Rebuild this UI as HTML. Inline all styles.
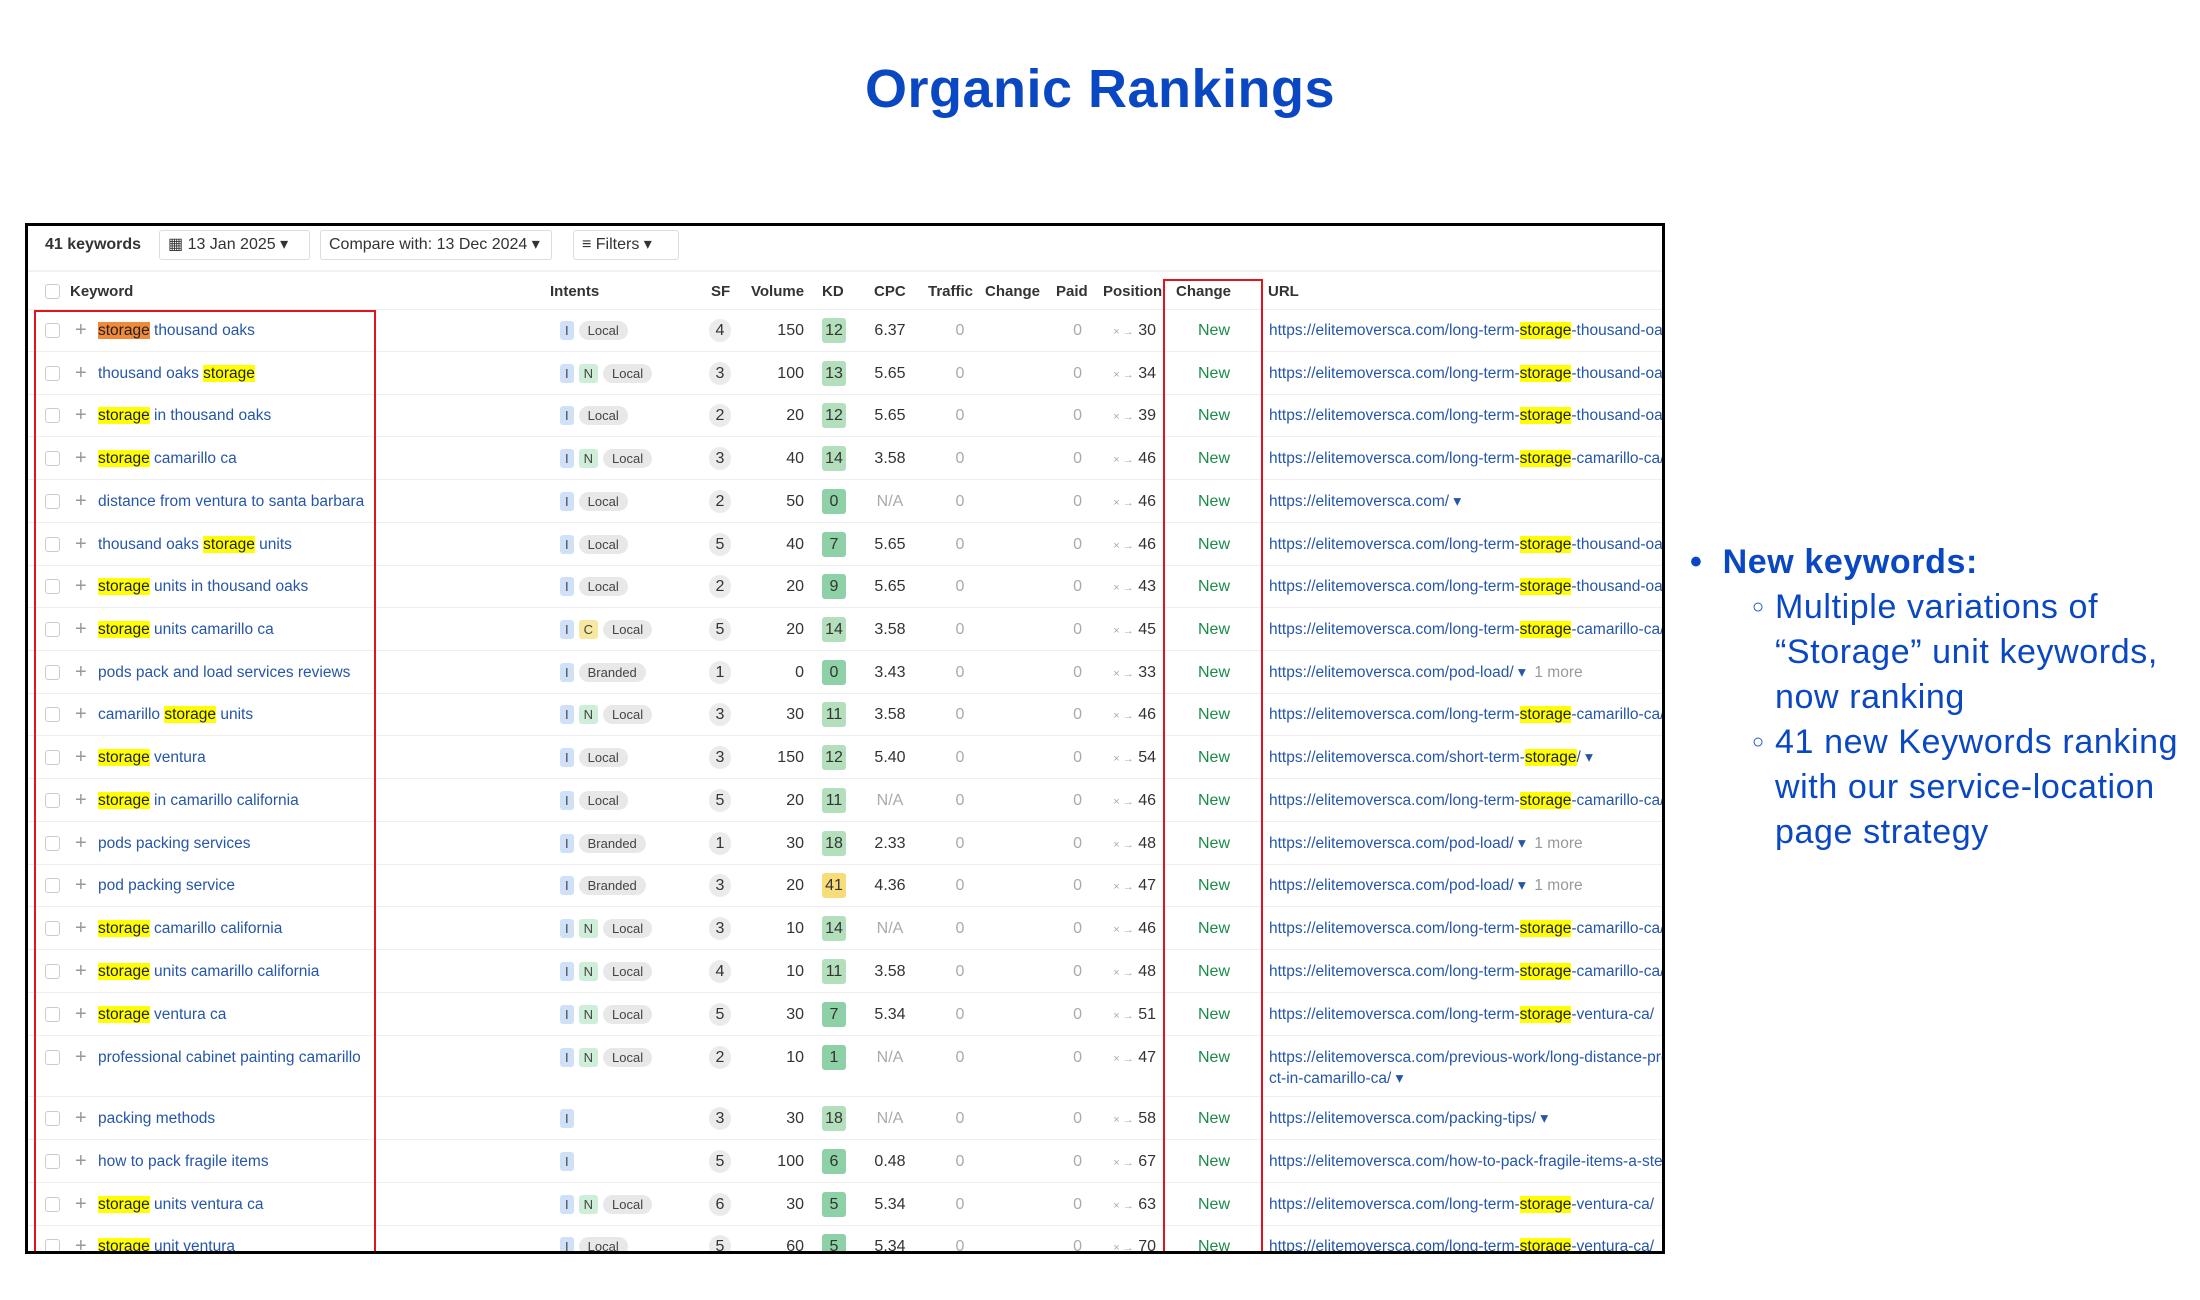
<!DOCTYPE html>
<html><head><meta charset="utf-8">
<style>
*{margin:0;padding:0;box-sizing:border-box}
body{width:2200px;height:1300px;background:#fff;position:relative;overflow:hidden;font-family:"Liberation Sans",Arial,sans-serif}
i{font-style:normal}
.title{position:absolute;left:0;width:2200px;top:58px;text-align:center;font-weight:bold;font-size:54px;color:#0a47c2;letter-spacing:0.5px}
.tbl{position:absolute;left:25px;top:223px;width:1640px;height:1031px;border:3px solid #000;overflow:hidden;font-size:16px;color:#333}
.tb{position:absolute;top:4px;height:30px;border:1px solid #ddd;border-radius:3px;line-height:28px;padding:0 8px;font-size:16px;color:#333;white-space:nowrap}
.row{position:absolute;left:0;width:1640px;height:43px;line-height:43px;border-bottom:1px solid #eee}
.row span,.hd span{position:absolute;white-space:nowrap}
.hd{position:absolute;left:0;top:44px;width:1640px;height:40px;line-height:40px;border-top:2px solid #f2f2f2;border-bottom:1px solid #eee;font-weight:bold;font-size:15px;color:#333}
.cb{left:17px;top:14px;width:15px;height:15px;border:1px solid #ccc;border-radius:3px}
.pl{left:47px;color:#999;font-size:20px}
.kw{left:70px;color:#2656a8;font-size:15.5px}
.y{background:#ffff00;color:#222}
.o{background:#f08a3a;color:#222}
.it{left:532px;top:12px;height:19px;line-height:19px}
.b{display:inline-block;height:19px;line-height:19px;padding:0 5px;border-radius:3px;font-size:13px;margin-right:5px;color:#444}
.bi{background:#cfe1f6}.bn{background:#cfeeda}.bc{background:#f8e7a0}
.bl{background:#e8e8e8;border-radius:10px;padding:0 9px}
.sf{left:681px;top:10px;width:22px;height:23px;line-height:23px;border-radius:11px;background:#ebebeb;text-align:center}
.vol{left:716px;width:60px;text-align:right}
.kd{left:794px;top:9px;width:24px;height:25px;line-height:25px;border-radius:3px;text-align:center;background:#b3dfbd}
.kd.d{background:#8fd1a6}.kd.yy{background:#f7dd7a}
.cpc{left:832px;width:60px;text-align:center}
.na{color:#aaa}
.tr{left:912px;width:40px;text-align:center;color:#aaa}
.pd{left:1014px;width:40px;text-align:right;color:#aaa}
.pos{left:1068px;width:60px;text-align:right}
.pos i{color:#aaa;font-size:11px}
.nw{left:1156px;width:60px;text-align:center;color:#1b8a4a}
.url{left:1241px;color:#2656a8;font-size:15.5px}
.m{color:#999}
.rb{position:absolute;border:2px solid #e0141a}
.side{position:absolute;left:1690px;top:540px;color:#0a47c2;font-size:34px;line-height:45px;letter-spacing:0.6px}
.side div{position:absolute;white-space:nowrap}
</style></head><body>
<div class="title">Organic Rankings</div>
<div class="tbl">
<div style="position:absolute;left:17px;top:4px;line-height:30px;font-weight:bold;font-size:16px">41 keywords</div>
<div class="tb" style="left:131px;width:151px">▦ 13 Jan 2025 ▾</div>
<div class="tb" style="left:292px;width:232px">Compare with: 13 Dec 2024 ▾</div>
<div class="tb" style="left:545px;width:106px">≡ Filters ▾</div>
<div class="hd"><span class="cb" style="top:12px;font-weight:normal"></span><span style="left:42px">Keyword</span><span style="left:522px">Intents</span><span style="left:683px">SF</span><span style="left:723px">Volume</span><span style="left:794px">KD</span><span style="left:846px">CPC</span><span style="left:900px">Traffic</span><span style="left:957px">Change</span><span style="left:1028px">Paid</span><span style="left:1075px">Position</span><span style="left:1148px">Change</span><span style="left:1240px">URL</span></div>

<div class="row" style="top:83px"><span class="cb"></span><span class="pl">+</span><span class="kw"><b class="o" style="font-weight:normal">storage</b> thousand oaks</span><span class="it"><i class="b bi">I</i><i class="b bl">Local</i></span><span class="sf">4</span><span class="vol">150</span><span class="kd">12</span><span class="cpc">6.37</span><span class="tr">0</span><span class="pd">0</span><span class="pos"><i>× →</i> 30</span><span class="nw">New</span><span class="url">https://elitemoversca.com/long-term-<b class="y" style="font-weight:normal">storage</b>-thousand-oaks-ca/</span></div>
<div class="row" style="top:126px"><span class="cb"></span><span class="pl">+</span><span class="kw">thousand oaks <b class="y" style="font-weight:normal">storage</b></span><span class="it"><i class="b bi">I</i><i class="b bn">N</i><i class="b bl">Local</i></span><span class="sf">3</span><span class="vol">100</span><span class="kd">13</span><span class="cpc">5.65</span><span class="tr">0</span><span class="pd">0</span><span class="pos"><i>× →</i> 34</span><span class="nw">New</span><span class="url">https://elitemoversca.com/long-term-<b class="y" style="font-weight:normal">storage</b>-thousand-oaks-ca/</span></div>
<div class="row" style="top:168px"><span class="cb"></span><span class="pl">+</span><span class="kw"><b class="y" style="font-weight:normal">storage</b> in thousand oaks</span><span class="it"><i class="b bi">I</i><i class="b bl">Local</i></span><span class="sf">2</span><span class="vol">20</span><span class="kd">12</span><span class="cpc">5.65</span><span class="tr">0</span><span class="pd">0</span><span class="pos"><i>× →</i> 39</span><span class="nw">New</span><span class="url">https://elitemoversca.com/long-term-<b class="y" style="font-weight:normal">storage</b>-thousand-oaks-ca/</span></div>
<div class="row" style="top:211px"><span class="cb"></span><span class="pl">+</span><span class="kw"><b class="y" style="font-weight:normal">storage</b> camarillo ca</span><span class="it"><i class="b bi">I</i><i class="b bn">N</i><i class="b bl">Local</i></span><span class="sf">3</span><span class="vol">40</span><span class="kd">14</span><span class="cpc">3.58</span><span class="tr">0</span><span class="pd">0</span><span class="pos"><i>× →</i> 46</span><span class="nw">New</span><span class="url">https://elitemoversca.com/long-term-<b class="y" style="font-weight:normal">storage</b>-camarillo-ca/</span></div>
<div class="row" style="top:254px"><span class="cb"></span><span class="pl">+</span><span class="kw">distance from ventura to santa barbara</span><span class="it"><i class="b bi">I</i><i class="b bl">Local</i></span><span class="sf">2</span><span class="vol">50</span><span class="kd d">0</span><span class="cpc na">N/A</span><span class="tr">0</span><span class="pd">0</span><span class="pos"><i>× →</i> 46</span><span class="nw">New</span><span class="url">https://elitemoversca.com/ ▾</span></div>
<div class="row" style="top:297px"><span class="cb"></span><span class="pl">+</span><span class="kw">thousand oaks <b class="y" style="font-weight:normal">storage</b> units</span><span class="it"><i class="b bi">I</i><i class="b bl">Local</i></span><span class="sf">5</span><span class="vol">40</span><span class="kd d">7</span><span class="cpc">5.65</span><span class="tr">0</span><span class="pd">0</span><span class="pos"><i>× →</i> 46</span><span class="nw">New</span><span class="url">https://elitemoversca.com/long-term-<b class="y" style="font-weight:normal">storage</b>-thousand-oaks-ca/</span></div>
<div class="row" style="top:339px"><span class="cb"></span><span class="pl">+</span><span class="kw"><b class="y" style="font-weight:normal">storage</b> units in thousand oaks</span><span class="it"><i class="b bi">I</i><i class="b bl">Local</i></span><span class="sf">2</span><span class="vol">20</span><span class="kd d">9</span><span class="cpc">5.65</span><span class="tr">0</span><span class="pd">0</span><span class="pos"><i>× →</i> 43</span><span class="nw">New</span><span class="url">https://elitemoversca.com/long-term-<b class="y" style="font-weight:normal">storage</b>-thousand-oaks-ca/</span></div>
<div class="row" style="top:382px"><span class="cb"></span><span class="pl">+</span><span class="kw"><b class="y" style="font-weight:normal">storage</b> units camarillo ca</span><span class="it"><i class="b bi">I</i><i class="b bc">C</i><i class="b bl">Local</i></span><span class="sf">5</span><span class="vol">20</span><span class="kd">14</span><span class="cpc">3.58</span><span class="tr">0</span><span class="pd">0</span><span class="pos"><i>× →</i> 45</span><span class="nw">New</span><span class="url">https://elitemoversca.com/long-term-<b class="y" style="font-weight:normal">storage</b>-camarillo-ca/</span></div>
<div class="row" style="top:425px"><span class="cb"></span><span class="pl">+</span><span class="kw">pods pack and load services reviews</span><span class="it"><i class="b bi">I</i><i class="b bl">Branded</i></span><span class="sf">1</span><span class="vol">0</span><span class="kd d">0</span><span class="cpc">3.43</span><span class="tr">0</span><span class="pd">0</span><span class="pos"><i>× →</i> 33</span><span class="nw">New</span><span class="url">https://elitemoversca.com/pod-load/ ▾ &nbsp;<i class="m">1 more</i></span></div>
<div class="row" style="top:467px"><span class="cb"></span><span class="pl">+</span><span class="kw">camarillo <b class="y" style="font-weight:normal">storage</b> units</span><span class="it"><i class="b bi">I</i><i class="b bn">N</i><i class="b bl">Local</i></span><span class="sf">3</span><span class="vol">30</span><span class="kd">11</span><span class="cpc">3.58</span><span class="tr">0</span><span class="pd">0</span><span class="pos"><i>× →</i> 46</span><span class="nw">New</span><span class="url">https://elitemoversca.com/long-term-<b class="y" style="font-weight:normal">storage</b>-camarillo-ca/</span></div>
<div class="row" style="top:510px"><span class="cb"></span><span class="pl">+</span><span class="kw"><b class="y" style="font-weight:normal">storage</b> ventura</span><span class="it"><i class="b bi">I</i><i class="b bl">Local</i></span><span class="sf">3</span><span class="vol">150</span><span class="kd">12</span><span class="cpc">5.40</span><span class="tr">0</span><span class="pd">0</span><span class="pos"><i>× →</i> 54</span><span class="nw">New</span><span class="url">https://elitemoversca.com/short-term-<b class="y" style="font-weight:normal">storage</b>/ ▾</span></div>
<div class="row" style="top:553px"><span class="cb"></span><span class="pl">+</span><span class="kw"><b class="y" style="font-weight:normal">storage</b> in camarillo california</span><span class="it"><i class="b bi">I</i><i class="b bl">Local</i></span><span class="sf">5</span><span class="vol">20</span><span class="kd">11</span><span class="cpc na">N/A</span><span class="tr">0</span><span class="pd">0</span><span class="pos"><i>× →</i> 46</span><span class="nw">New</span><span class="url">https://elitemoversca.com/long-term-<b class="y" style="font-weight:normal">storage</b>-camarillo-ca/</span></div>
<div class="row" style="top:596px"><span class="cb"></span><span class="pl">+</span><span class="kw">pods packing services</span><span class="it"><i class="b bi">I</i><i class="b bl">Branded</i></span><span class="sf">1</span><span class="vol">30</span><span class="kd">18</span><span class="cpc">2.33</span><span class="tr">0</span><span class="pd">0</span><span class="pos"><i>× →</i> 48</span><span class="nw">New</span><span class="url">https://elitemoversca.com/pod-load/ ▾ &nbsp;<i class="m">1 more</i></span></div>
<div class="row" style="top:638px"><span class="cb"></span><span class="pl">+</span><span class="kw">pod packing service</span><span class="it"><i class="b bi">I</i><i class="b bl">Branded</i></span><span class="sf">3</span><span class="vol">20</span><span class="kd yy">41</span><span class="cpc">4.36</span><span class="tr">0</span><span class="pd">0</span><span class="pos"><i>× →</i> 47</span><span class="nw">New</span><span class="url">https://elitemoversca.com/pod-load/ ▾ &nbsp;<i class="m">1 more</i></span></div>
<div class="row" style="top:681px"><span class="cb"></span><span class="pl">+</span><span class="kw"><b class="y" style="font-weight:normal">storage</b> camarillo california</span><span class="it"><i class="b bi">I</i><i class="b bn">N</i><i class="b bl">Local</i></span><span class="sf">3</span><span class="vol">10</span><span class="kd">14</span><span class="cpc na">N/A</span><span class="tr">0</span><span class="pd">0</span><span class="pos"><i>× →</i> 46</span><span class="nw">New</span><span class="url">https://elitemoversca.com/long-term-<b class="y" style="font-weight:normal">storage</b>-camarillo-ca/</span></div>
<div class="row" style="top:724px"><span class="cb"></span><span class="pl">+</span><span class="kw"><b class="y" style="font-weight:normal">storage</b> units camarillo california</span><span class="it"><i class="b bi">I</i><i class="b bn">N</i><i class="b bl">Local</i></span><span class="sf">4</span><span class="vol">10</span><span class="kd">11</span><span class="cpc">3.58</span><span class="tr">0</span><span class="pd">0</span><span class="pos"><i>× →</i> 48</span><span class="nw">New</span><span class="url">https://elitemoversca.com/long-term-<b class="y" style="font-weight:normal">storage</b>-camarillo-ca/</span></div>
<div class="row" style="top:767px"><span class="cb"></span><span class="pl">+</span><span class="kw"><b class="y" style="font-weight:normal">storage</b> ventura ca</span><span class="it"><i class="b bi">I</i><i class="b bn">N</i><i class="b bl">Local</i></span><span class="sf">5</span><span class="vol">30</span><span class="kd d">7</span><span class="cpc">5.34</span><span class="tr">0</span><span class="pd">0</span><span class="pos"><i>× →</i> 51</span><span class="nw">New</span><span class="url">https://elitemoversca.com/long-term-<b class="y" style="font-weight:normal">storage</b>-ventura-ca/</span></div>
<div class="row" style="top:810px;height:61px"><span class="cb"></span><span class="pl">+</span><span class="kw">professional cabinet painting camarillo</span><span class="it"><i class="b bi">I</i><i class="b bn">N</i><i class="b bl">Local</i></span><span class="sf">2</span><span class="vol">10</span><span class="kd d">1</span><span class="cpc na">N/A</span><span class="tr">0</span><span class="pd">0</span><span class="pos"><i>× →</i> 47</span><span class="nw">New</span><span class="url">https://elitemoversca.com/previous-work/long-distance-project-in-camarillo-ca/</span><span class="url" style="top:21px">ct-in-camarillo-ca/ ▾</span></div>
<div class="row" style="top:871px"><span class="cb"></span><span class="pl">+</span><span class="kw">packing methods</span><span class="it"><i class="b bi">I</i></span><span class="sf">3</span><span class="vol">30</span><span class="kd">18</span><span class="cpc na">N/A</span><span class="tr">0</span><span class="pd">0</span><span class="pos"><i>× →</i> 58</span><span class="nw">New</span><span class="url">https://elitemoversca.com/packing-tips/ ▾</span></div>
<div class="row" style="top:914px"><span class="cb"></span><span class="pl">+</span><span class="kw">how to pack fragile items</span><span class="it"><i class="b bi">I</i></span><span class="sf">5</span><span class="vol">100</span><span class="kd d">6</span><span class="cpc">0.48</span><span class="tr">0</span><span class="pd">0</span><span class="pos"><i>× →</i> 67</span><span class="nw">New</span><span class="url">https://elitemoversca.com/how-to-pack-fragile-items-a-step/</span></div>
<div class="row" style="top:957px"><span class="cb"></span><span class="pl">+</span><span class="kw"><b class="y" style="font-weight:normal">storage</b> units ventura ca</span><span class="it"><i class="b bi">I</i><i class="b bn">N</i><i class="b bl">Local</i></span><span class="sf">6</span><span class="vol">30</span><span class="kd d">5</span><span class="cpc">5.34</span><span class="tr">0</span><span class="pd">0</span><span class="pos"><i>× →</i> 63</span><span class="nw">New</span><span class="url">https://elitemoversca.com/long-term-<b class="y" style="font-weight:normal">storage</b>-ventura-ca/</span></div>
<div class="row" style="top:999px"><span class="cb"></span><span class="pl">+</span><span class="kw"><b class="y" style="font-weight:normal">storage</b> unit ventura</span><span class="it"><i class="b bi">I</i><i class="b bl">Local</i></span><span class="sf">5</span><span class="vol">60</span><span class="kd d">5</span><span class="cpc">5.34</span><span class="tr">0</span><span class="pd">0</span><span class="pos"><i>× →</i> 70</span><span class="nw">New</span><span class="url">https://elitemoversca.com/long-term-<b class="y" style="font-weight:normal">storage</b>-ventura-ca/</span></div>

<div class="rb" style="left:6px;top:84px;width:342px;height:960px"></div>
<div class="rb" style="left:1135px;top:53px;width:100px;height:990px"></div>
</div>

<div class="side">
<div style="left:0;top:0;font-weight:bold">•&nbsp; New keywords:</div>
<div style="left:62px;top:45px;font-size:20px">○</div>
<div style="left:85px;top:45px">Multiple variations of</div>
<div style="left:85px;top:90px">“Storage” unit keywords,</div>
<div style="left:85px;top:135px">now ranking</div>
<div style="left:62px;top:180px;font-size:20px">○</div>
<div style="left:85px;top:180px">41 new Keywords ranking</div>
<div style="left:85px;top:225px">with our service-location</div>
<div style="left:85px;top:270px">page strategy</div>
</div>
</body></html>
